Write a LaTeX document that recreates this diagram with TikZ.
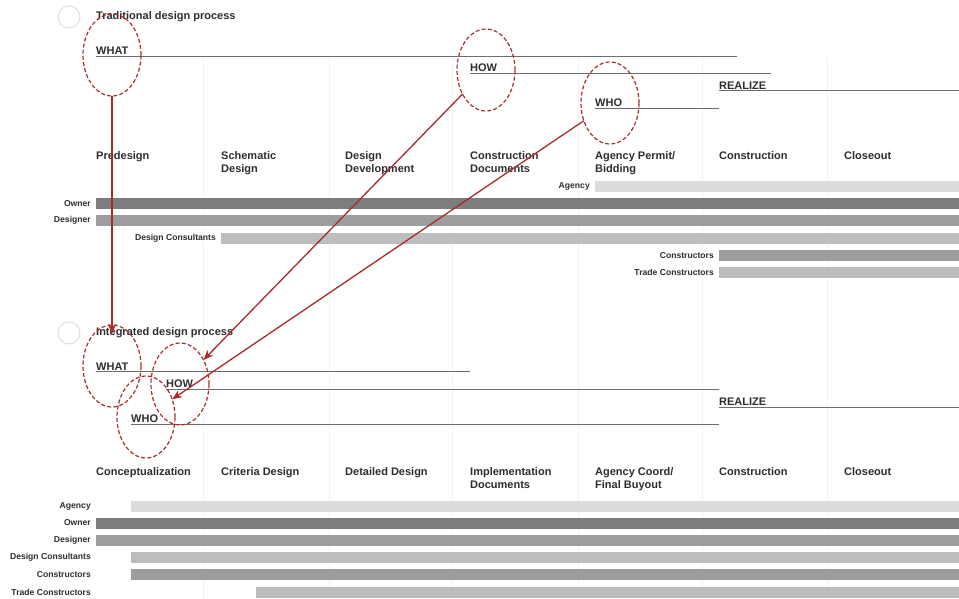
\documentclass[tikz,border=0pt]{standalone}
\usepackage{fontspec}
\setmainfont{Liberation Sans}
\usepackage{xcolor}
\usepackage{tikz}
\usetikzlibrary{arrows.meta,positioning,shapes.geometric}

\definecolor{barDark}{HTML}{7D7D80}
\definecolor{barMid}{HTML}{9D9DA0}
\definecolor{barLight}{HTML}{BDBDBF}
\definecolor{barPale}{HTML}{DCDCDE}
\definecolor{markRed}{HTML}{A82C2C}
\definecolor{inkGrey}{HTML}{2E2E30}
\definecolor{ruleGrey}{HTML}{6E6E70}

\begin{document}
\begin{tikzpicture}[
    x=1pt, y=-1pt,
    title/.style={anchor=base west, inner sep=0pt, font=\bfseries\fontsize{11}{13}\selectfont, text=inkGrey},
    phase/.style={anchor=north west, inner sep=0pt, align=left, font=\bfseries\fontsize{11}{13}\selectfont, text=inkGrey},
    party/.style={anchor=east, inner sep=0pt, font=\bfseries\fontsize{8.6}{10}\selectfont, text=inkGrey},
    rule/.style={draw=ruleGrey, line width=1pt},
    ring/.style={ellipse, draw=markRed, dash pattern=on 4pt off 2.2pt, line width=1.2pt, minimum width=58pt, minimum height=82pt, inner sep=0pt, outer sep=0pt},
    link/.style={draw=markRed, line width=1.3pt, -{Stealth[length=10pt,width=8pt]}},
    dot/.style={circle, draw=black!12, line width=1pt, minimum size=22pt, inner sep=0pt}
]
\useasboundingbox (0,0) rectangle (959,599);
\fill[white] (0,0) rectangle (959,599);

% Column dividers
\foreach \x in {203,329,452,578,702,827} {
    \draw[black!5, line width=1pt] (\x,57) -- (\x,599);
}

% ---------------- Traditional design process ----------------
\node[dot] (tDot) at (69,17) {};
\node[title] (tTitle) at (96,20) {Traditional design process};

\node[title] (tWhatLbl) at (96,55) {WHAT};
\node[title] (tHowLbl) at (470,72) {HOW};
\node[title] (tRealizeLbl) at (719,89.5) {REALIZE};
\node[title] (tWhoLbl) at (595,107) {WHO};
\draw[rule] (96,56.5) -- (737,56.5);
\draw[rule] (470,73.5) -- (771,73.5);
\draw[rule] (719,91) -- (959,91);
\draw[rule] (595,108.5) -- (719,108.5);

% Phases
\node[phase] (tPh1) at (96,151.5) {Predesign};
\node[phase] (tPh2) at (221,151.5) {Schematic\\Design};
\node[phase] (tPh3) at (345,151.5) {Design\\Development};
\node[phase] (tPh4) at (470,151.5) {Construction\\Documents};
\node[phase] (tPh5) at (595,151.5) {Agency Permit/\\Bidding};
\node[phase] (tPh6) at (719,151.5) {Construction};
\node[phase] (tPh7) at (844,151.5) {Closeout};

% Participants
\foreach \lab/\xs/\ys/\col in {Agency/595/181/barPale, Owner/96/198/barDark, Designer/96/215/barMid,
    Design Consultants/221/232.5/barLight, Constructors/719/250/barMid, Trade Constructors/719/267/barLight} {
    \fill[\col] (\xs,\ys) rectangle (959,\ys+11);
    \node[party] at (\xs-5,\ys+5.5) {\lab};
}

% ---------------- Integrated design process ----------------
\node[dot] (iDot) at (69,333) {};
\node[title] (iTitle) at (96,335) {Integrated design process};

\node[title] (iWhatLbl) at (96,370) {WHAT};
\node[title] (iHowLbl) at (166,387) {HOW};
\node[title] (iRealizeLbl) at (719,405.5) {REALIZE};
\node[title] (iWhoLbl) at (131,422) {WHO};
\draw[rule] (96,371.5) -- (470,371.5);
\draw[rule] (166,389) -- (719,389);
\draw[rule] (719,407) -- (959,407);
\draw[rule] (131,424) -- (719,424);

% Phases
\node[phase] (iPh1) at (96,467) {Conceptualization};
\node[phase] (iPh2) at (221,467) {Criteria Design};
\node[phase] (iPh3) at (345,467) {Detailed Design};
\node[phase] (iPh4) at (470,467) {Implementation\\Documents};
\node[phase] (iPh5) at (595,467) {Agency Coord/\\Final Buyout};
\node[phase] (iPh6) at (719,467) {Construction};
\node[phase] (iPh7) at (844,467) {Closeout};

% Participants
\foreach \lab/\xs/\ys/\col in {Agency/131/500.5/barPale, Owner/96/517.5/barDark, Designer/96/534.5/barMid,
    Design Consultants/131/552/barLight, Constructors/131/569/barMid, Trade Constructors/256/587/barLight} {
    \fill[\col] (\xs,\ys) rectangle (959,\ys+11);
    \node[party] at (91,\ys+5.5) {\lab};
}

% Markings
\node[ring] (tWhat) at (112,55) {};
\node[ring] (tHow) at (486,70) {};
\node[ring] (tWho) at (610,103) {};
\node[ring] (iWhat) at (112,366) {};
\node[ring] (iHow) at (180,384) {};
\node[ring] (iWho) at (146,417) {};

\draw[link, shorten >=-9pt] (tWhat.south) -- (iWhat.north);
\draw[link] (tHow) -- (iHow);
\draw[link] (tWho) -- (iWho);

\end{tikzpicture}
\end{document}
